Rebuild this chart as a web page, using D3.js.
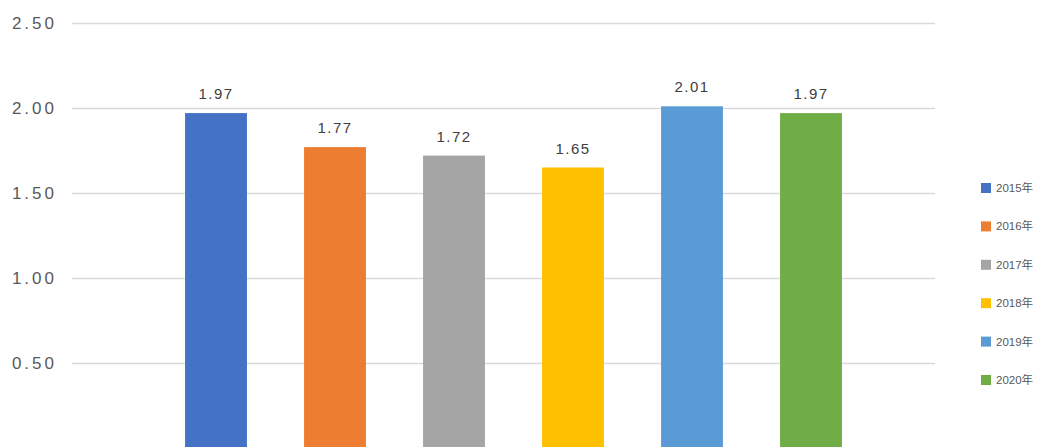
<!DOCTYPE html>
<html>
<head>
<meta charset="utf-8">
<script src="https://cdn.jsdelivr.net/npm/d3@7"></script>
<style>
  html, body { margin: 0; padding: 0; background: #ffffff; overflow: hidden; }
  svg { display: block; }
  text { font-family: "Liberation Sans", "Noto Sans CJK SC", sans-serif; }
</style>
</head>
<body>
<svg id="chart" width="1041" height="447"></svg>
<script>
// ---- data ----
const seriesNames = ["2015年", "2016年", "2017年", "2018年", "2019年", "2020年"];
const seriesValues = [1.97, 1.77, 1.72, 1.65, 2.01, 1.97];
const seriesColors = ["#4472C4", "#ED7D31", "#A5A5A5", "#FFC000", "#5B9BD5", "#70AD47"];
const yTicks = [0.5, 1.0, 1.5, 2.0, 2.5];

// ---- layout ----
const svg = d3.select("#chart");
const plot = { left: 72, right: 935, top: 23, bottom: 448 };

const x = d3.scaleBand()
  .domain(seriesNames)
  .range([156.5, 870.5])
  .paddingInner(0.48)
  .paddingOuter(0.24);

const y = d3.scaleLinear()
  .domain([0, 2.5])
  .range([plot.bottom, plot.top]);

// gridlines + tick labels via axis
const yAxis = d3.axisLeft(y)
  .tickValues(yTicks)
  .tickFormat(d3.format(".2f"))
  .tickSize(-(plot.right - plot.left))
  .tickPadding(17);

const gAxis = svg.append("g")
  .attr("transform", `translate(${plot.left},0)`)
  .call(yAxis);
gAxis.select(".domain").remove();
gAxis.selectAll(".tick line").attr("stroke", "#d9d9d9").attr("stroke-width", 1.3);
gAxis.selectAll(".tick text")
  .attr("fill", "#595959")
  .style("font-size", "17px")
  .style("letter-spacing", "3px")
  .attr("x", -15);

// bars
svg.append("g").selectAll("rect")
  .data(seriesNames)
  .join("rect")
  .attr("x", d => x(d))
  .attr("width", x.bandwidth())
  .attr("y", (d, i) => y(seriesValues[i]))
  .attr("height", (d, i) => y(0) - y(seriesValues[i]))
  .attr("fill", (d, i) => seriesColors[i]);

// data labels
svg.append("g").selectAll("text")
  .data(seriesNames)
  .join("text")
  .attr("x", d => x(d) + x.bandwidth() / 2)
  .attr("y", (d, i) => y(seriesValues[i]) - 14)
  .attr("text-anchor", "middle")
  .attr("fill", "#404040")
  .style("font-size", "15px")
  .style("letter-spacing", "1.5px")
  .text((d, i) => d3.format(".2f")(seriesValues[i]));

// legend
const legendY = d3.scalePoint()
  .domain(seriesNames)
  .range([188, 380]);

const leg = svg.append("g").selectAll("g")
  .data(seriesNames)
  .join("g")
  .attr("transform", d => `translate(981,${legendY(d)})`);
leg.append("rect")
  .attr("x", 0).attr("y", -5)
  .attr("width", 10).attr("height", 10)
  .attr("fill", (d, i) => seriesColors[i]);
leg.append("text")
  .attr("x", 15).attr("y", 0)
  .attr("dy", "0.35em")
  .attr("fill", "#595959")
  .style("font-size", "11.5px")
  .text(d => d);
</script>
</body>
</html>
